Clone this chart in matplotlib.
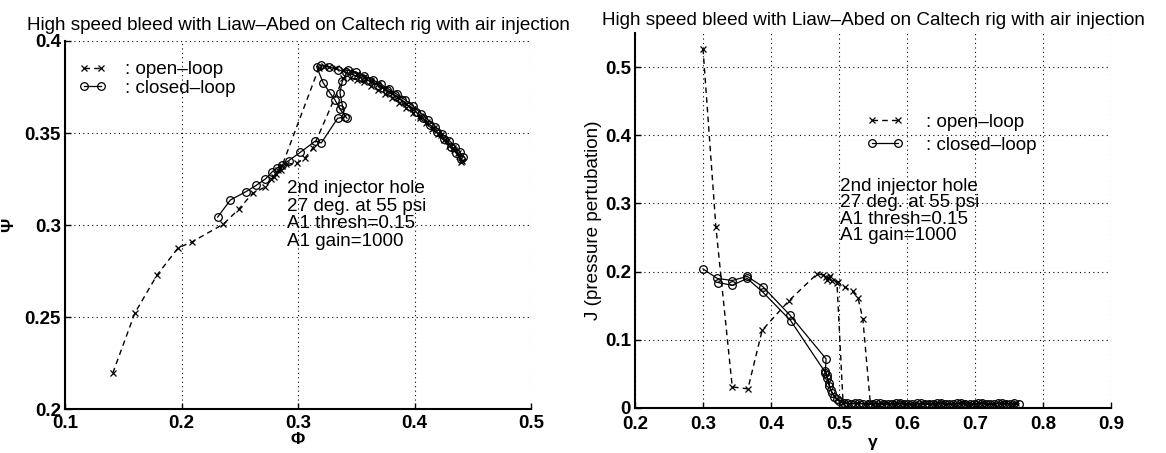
import matplotlib
matplotlib.use("Agg")
import matplotlib.pyplot as plt
from matplotlib.lines import Line2D

plt.rcParams['font.family'] = ['Liberation Sans', 'DejaVu Sans']

TITLE = "High speed bleed with Liaw\u2013Abed on Caltech rig with air injection"
NOTE = "2nd injector hole\n27 deg. at 55 psi\nA1 thresh=0.15\nA1 gain=1000"
LABEL_OL = ": open\u2013loop"
LABEL_CL = ": closed\u2013loop"

# ---- compressor characteristic: Phi (flow) vs Psi (pressure rise) ----
phi_ol = [0.141, 0.160, 0.179, 0.197, 0.209, 0.236, 0.249, 0.261, 0.272, 0.279,
          0.283, 0.286, 0.290, 0.299, 0.306, 0.313,
          0.339, 0.345, 0.351, 0.357, 0.363, 0.369, 0.375, 0.381, 0.387, 0.393,
          0.399, 0.405, 0.410, 0.415, 0.420, 0.425, 0.430, 0.434, 0.438, 0.441,
          0.440, 0.437, 0.433, 0.428, 0.423, 0.417, 0.411, 0.405, 0.399, 0.393,
          0.387, 0.381, 0.375, 0.369, 0.363, 0.357, 0.351, 0.345, 0.339, 0.333,
          0.327, 0.322, 0.318,
          0.285, 0.281, 0.277]
psi_ol = [0.2195, 0.2522, 0.2728, 0.2875, 0.2908, 0.3005, 0.3085, 0.3172, 0.3207, 0.3260,
          0.3300, 0.3320, 0.3330, 0.3337, 0.3364, 0.3420,
          0.3800, 0.3800, 0.3790, 0.3775, 0.3755, 0.3735, 0.3712, 0.3690, 0.3665, 0.3638,
          0.3610, 0.3580, 0.3552, 0.3522, 0.3492, 0.3462, 0.3432, 0.3405, 0.3375, 0.3350,
          0.3340, 0.3390, 0.3420, 0.3455, 0.3490, 0.3525, 0.3560, 0.3595, 0.3630, 0.3660,
          0.3690, 0.3715, 0.3740, 0.3765, 0.3785, 0.3805, 0.3820, 0.3835, 0.3845, 0.3855,
          0.3860, 0.3862, 0.3855,
          0.3300, 0.3275, 0.3250]

phi_cl = [0.231, 0.242, 0.255, 0.264, 0.272, 0.278, 0.282, 0.286, 0.292, 0.302,
          0.315, 0.320, 0.334, 0.340, 0.338, 0.336, 0.338,
          0.343, 0.350, 0.357, 0.364, 0.371, 0.378, 0.385, 0.392, 0.399, 0.406,
          0.412, 0.418, 0.424, 0.430, 0.435, 0.439, 0.442,
          0.440, 0.436, 0.431, 0.425, 0.419, 0.413, 0.407, 0.401, 0.395, 0.389,
          0.383, 0.376, 0.369, 0.362, 0.355, 0.348, 0.341, 0.334, 0.327, 0.320, 0.316,
          0.3215, 0.3275, 0.3317, 0.336, 0.342]
psi_cl = [0.3043, 0.3136, 0.3180, 0.3215, 0.3250, 0.3290, 0.3310, 0.3325, 0.3350, 0.3395,
          0.3457, 0.3446, 0.3580, 0.3587, 0.3652, 0.3720, 0.3780,
          0.3842, 0.3830, 0.3810, 0.3790, 0.3765, 0.3738, 0.3710, 0.3680, 0.3645, 0.3605,
          0.3570, 0.3535, 0.3495, 0.3458, 0.3425, 0.3395, 0.3370,
          0.3360, 0.3390, 0.3425, 0.3465, 0.3505, 0.3545, 0.3580, 0.3615, 0.3648, 0.3678,
          0.3705, 0.3732, 0.3758, 0.3780, 0.3800, 0.3815, 0.3830, 0.3845, 0.3858, 0.3868, 0.3860,
          0.3774, 0.3717, 0.3680, 0.3630, 0.3580]

# ---- pressure perturbation J vs throttle gamma ----
gam_ol = [0.300, 0.319, 0.343, 0.366, 0.387, 0.426, 0.468, 0.477, 0.481, 0.486,
          0.490, 0.498, 0.509, 0.520, 0.528, 0.535, 0.546,
          0.558, 0.570, 0.582, 0.594, 0.606, 0.618, 0.630, 0.642, 0.654, 0.666,
          0.678, 0.690, 0.702, 0.714, 0.726, 0.738, 0.750, 0.760,
          0.754, 0.742, 0.730, 0.718, 0.706, 0.694, 0.682, 0.670, 0.658, 0.646,
          0.634, 0.622, 0.610, 0.598, 0.586, 0.574, 0.562, 0.550, 0.538, 0.526,
          0.515, 0.506,
          0.497, 0.487, 0.483]
j_ol = [0.527, 0.265, 0.031, 0.028, 0.114, 0.157, 0.197, 0.195, 0.192, 0.190,
        0.186, 0.185, 0.177, 0.171, 0.161, 0.131, 0.008,
        0.006, 0.007, 0.006, 0.007, 0.006, 0.006, 0.007, 0.006, 0.007, 0.006,
        0.007, 0.006, 0.006, 0.007, 0.006, 0.007, 0.006, 0.007,
        0.006, 0.007, 0.006, 0.006, 0.007, 0.006, 0.007, 0.006, 0.006, 0.007,
        0.006, 0.007, 0.006, 0.006, 0.007, 0.006, 0.007, 0.006, 0.006, 0.007,
        0.006, 0.007,
        0.184, 0.193, 0.188]

gam_cl = [0.300, 0.321, 0.343, 0.365, 0.388, 0.428, 0.481, 0.480, 0.482, 0.485,
          0.488, 0.493, 0.500, 0.508, 0.518,
          0.530, 0.542, 0.554, 0.566, 0.578, 0.590, 0.602, 0.614, 0.626, 0.638,
          0.650, 0.662, 0.674, 0.686, 0.698, 0.710, 0.722, 0.734, 0.746, 0.758, 0.765,
          0.752, 0.740, 0.728, 0.716, 0.704, 0.692, 0.680, 0.668, 0.656, 0.644,
          0.632, 0.620, 0.608, 0.596, 0.584, 0.572, 0.560, 0.548, 0.536, 0.524, 0.512,
          0.497, 0.490, 0.486, 0.483, 0.480, 0.429, 0.388, 0.365, 0.343, 0.322]
j_cl = [0.204, 0.190, 0.187, 0.193, 0.178, 0.136, 0.072, 0.055, 0.048, 0.036,
        0.026, 0.016, 0.010, 0.007, 0.006,
        0.007, 0.006, 0.007, 0.006, 0.006, 0.007, 0.006, 0.007, 0.006, 0.006,
        0.007, 0.006, 0.007, 0.006, 0.006, 0.007, 0.006, 0.007, 0.006, 0.007, 0.006,
        0.006, 0.007, 0.006, 0.006, 0.007, 0.006, 0.007, 0.006, 0.006, 0.007,
        0.006, 0.007, 0.006, 0.006, 0.007, 0.006, 0.007, 0.006, 0.006, 0.007, 0.007,
        0.013, 0.022, 0.032, 0.044, 0.052, 0.128, 0.170, 0.190, 0.180, 0.184]

left_xticks = [0.1, 0.2, 0.3, 0.4, 0.5]
left_yticks = [0.2, 0.25, 0.3, 0.35, 0.4]
right_xticks = [0.2, 0.3, 0.4, 0.5, 0.6, 0.7, 0.8, 0.9]
right_yticks = [0, 0.1, 0.2, 0.3, 0.4, 0.5]

FS = 13.6
TICK_FS = 13.5
ol_style = dict(color='black', linestyle=(0, (4, 3)), linewidth=1.0,
                marker='x', markersize=5, markeredgewidth=0.9)
cl_style = dict(color='black', linestyle='-', linewidth=0.9,
                marker='o', markersize=5.5, markerfacecolor='none',
                markeredgewidth=0.9)

fig = plt.figure(figsize=(11.66, 4.53), dpi=100)
ax1 = fig.add_axes([65 / 1166, 1 - 409 / 453, 466 / 1166, 368 / 453])
ax2 = fig.add_axes([635 / 1166, 1 - 408 / 453, 476 / 1166, 375 / 453])


def style_axes(ax, xticks, yticks, xpad):
    ax.set_xticks(xticks)
    ax.set_yticks(yticks)
    ax.set_xticklabels([f"{t:g}" for t in xticks], fontweight='bold')
    ax.set_yticklabels([f"{t:g}" for t in yticks], fontweight='bold')
    ax.grid(True, color='black', linestyle=(0, (1, 3)), linewidth=0.8)
    ax.spines['top'].set_visible(False)
    ax.spines['right'].set_visible(False)
    ax.spines['left'].set_linewidth(1.5)
    ax.spines['bottom'].set_linewidth(1.5)
    ax.tick_params(direction='in', length=4, width=1, labelsize=TICK_FS)
    ax.tick_params(axis='x', pad=xpad)
    ax.tick_params(axis='y', pad=3)
    ax.set_axisbelow(True)


# left panel
ax1.plot(phi_ol, psi_ol, **ol_style)
ax1.plot(phi_cl, psi_cl, **cl_style)
ax1.set_xlim(0.1, 0.5)
ax1.set_ylim(0.2, 0.4)
style_axes(ax1, left_xticks, left_yticks, 4)
ax1.set_title(TITLE, fontsize=FS, pad=8)
ax1.set_xlabel("\u03a6", fontsize=FS - 1, fontweight='bold', labelpad=0)
ax1.set_ylabel("\u03a8", fontsize=FS - 1, fontweight='bold', labelpad=6)
ax1.text(0.476, 0.527, NOTE, transform=ax1.transAxes, fontsize=FS,
         va='center', ha='left', linespacing=1.05)
h_ol = Line2D([], [], **ol_style)
h_cl = Line2D([], [], **cl_style)
ax1.legend([h_ol, h_cl], [LABEL_OL, LABEL_CL], loc='upper left',
           bbox_to_anchor=(0.028, 0.945), frameon=False, fontsize=FS,
           handlelength=1.5, handletextpad=1.0, labelspacing=0.05,
           borderpad=0, borderaxespad=0, numpoints=2)

# right panel
ax2.plot(gam_ol, j_ol, **ol_style)
ax2.plot(gam_cl, j_cl, **cl_style)
ax2.set_xlim(0.2, 0.9)
ax2.set_ylim(0, 0.55)
style_axes(ax2, right_xticks, right_yticks, 6)
ax2.set_title(TITLE, fontsize=FS, pad=6)
ax2.set_xlabel("\u03b3", fontsize=FS - 1, fontweight='bold', labelpad=1)
ax2.set_ylabel("J (pressure pertubation)", fontsize=FS, labelpad=2)
ax2.text(0.431, 0.525, NOTE, transform=ax2.transAxes, fontsize=FS,
         va='center', ha='left', linespacing=0.95)
ax2.legend([h_ol, h_cl], [LABEL_OL, LABEL_CL], loc='upper left',
           bbox_to_anchor=(0.485, 0.785), frameon=False, fontsize=FS,
           handlelength=2.0, handletextpad=1.2, labelspacing=0.3,
           borderpad=0, borderaxespad=0, numpoints=2)

fig.savefig("out.png", dpi=100)
